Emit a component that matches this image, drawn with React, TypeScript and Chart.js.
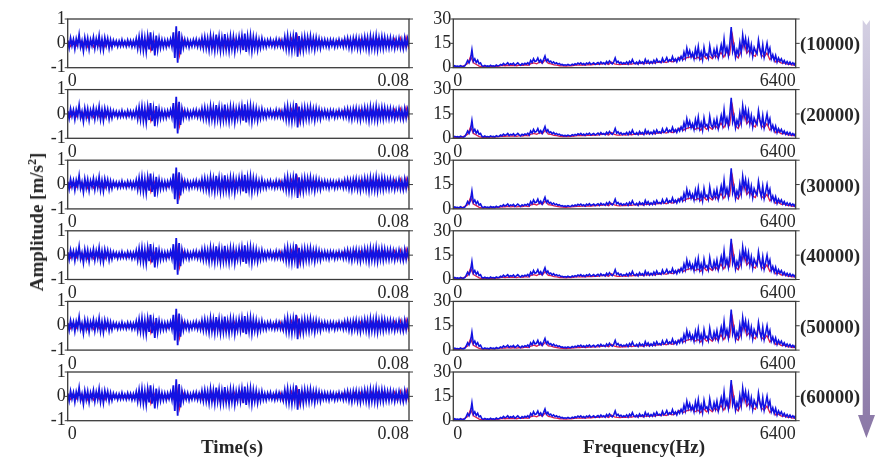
import React, { useEffect, useRef } from "react";
import { Chart, registerables } from "chart.js";

Chart.register(...registerables);

// ---------- data ----------
const rowLabels = ["(10000)", "(20000)", "(30000)", "(40000)", "(50000)", "(60000)"];

const timeMax = 0.08;
const timeXTicks = [0, 0.08];
const timeYTicks = [-1, 0, 1];
const freqMax = 6400;
const freqXTicks = [0, 6400];
const freqYTicks = [0, 15, 30];

// vibration signal (blue, reconstructed)
const timeBlue = [
  0.12, -0.18, 0.21, -0.1, 0.16, -0.22, 0.18, -0.08, 0.35, -0.15, 0.1, -0.3, 0.22, -0.14, 0.2, -0.24, 0.15, -0.1, 0.24, -0.2,
  0.18, -0.12, 0.3, -0.22, 0.16, -0.26, 0.22, -0.1, 0.19, -0.2, 0.14, -0.16, 0.12, -0.08, 0.1, -0.13, 0.09, -0.11, 0.14, -0.1,
  0.08, -0.12, 0.13, -0.09, 0.11, -0.14, 0.1, -0.12, 0.18, -0.2, 0.26, -0.22, 0.3, -0.28, 0.22, -0.33, 0.28, -0.25, 0.45, -0.3,
  0.2, -0.5, 0.32, -0.26, 0.2, -0.18, 0.14, -0.16, 0.12, -0.15, 0.13, -0.1, 0.16, -0.14, 0.45, -0.6, 0.7, -0.8, 0.5, -0.45,
  0.2, -0.18, 0.15, -0.12, 0.13, -0.16, 0.1, -0.12, 0.14, -0.1, 0.16, -0.13, 0.12, -0.15, 0.22, -0.18, 0.25, -0.2, 0.2, -0.26,
  0.3, -0.22, 0.24, -0.28, 0.36, -0.2, 0.27, -0.3, 0.22, -0.25, 0.38, -0.24, 0.2, -0.3, 0.28, -0.22, 0.25, -0.32, 0.2, -0.18,
  0.26, -0.2, 0.3, -0.28, 0.4, -0.35, 0.28, -0.22, 0.32, -0.3, 0.25, -0.2, 0.22, -0.26, 0.15, -0.18, 0.2, -0.14, 0.12, -0.15,
  0.13, -0.1, 0.15, -0.12, 0.1, -0.14, 0.16, -0.11, 0.14, -0.13, 0.12, -0.16, 0.25, -0.22, 0.3, -0.26, 0.22, -0.3, 0.28, -0.2,
  0.45, -0.55, 0.3, -0.25, 0.22, -0.28, 0.26, -0.2, 0.24, -0.22, 0.28, -0.18, 0.2, -0.25, 0.22, -0.16, 0.18, -0.2, 0.14, -0.12,
  0.15, -0.13, 0.12, -0.16, 0.14, -0.1, 0.13, -0.15, 0.11, -0.12, 0.15, -0.1, 0.12, -0.14, 0.18, -0.12, 0.2, -0.18, 0.16, -0.22,
  0.2, -0.15, 0.22, -0.2, 0.18, -0.24, 0.2, -0.16, 0.25, -0.2, 0.22, -0.26, 0.28, -0.2, 0.24, -0.22, 0.3, -0.25, 0.22, -0.18,
  0.26, -0.2, 0.24, -0.16, 0.2, -0.18, 0.22, -0.15, 0.18, -0.2, 0.16, -0.14, 0.2, -0.18, 0.15, -0.2, 0.22, -0.16, 0.18, -0.14,
];

// original signal (red), mostly hidden under blue
const timeRed = [
  0.1, -0.12, 0.12, -0.1, 0.2, -0.15, 0.14, -0.15, 0.12, -0.14,
  0.15, -0.12, 0.12, -0.14, 0.12, -0.1, 0.08, -0.07, 0.07, -0.08,
  0.07, -0.08, 0.08, -0.07, 0.14, -0.15, 0.16, -0.18, 0.25, -0.3,
  0.15, -0.14, 0.1, -0.08, 0.08, -0.1, 0.1, -0.12, 0.4, -0.5,
  0.2, -0.1, 0.08, -0.08, 0.1, -0.08, 0.14, -0.13, 0.15, -0.16,
  0.2, -0.17, 0.2, -0.18, 0.17, -0.19, 0.16, -0.14, 0.17, -0.15,
  0.2, -0.2, 0.17, -0.17, 0.14, -0.14, 0.1, -0.1, 0.08, -0.08,
  0.08, -0.08, 0.08, -0.1, 0.17, -0.17, 0.17, -0.17, 0.2, -0.18,
  0.3, -0.35, 0.15, -0.14, 0.16, -0.14, 0.12, -0.12, 0.1, -0.08,
  0.08, -0.1, 0.08, -0.08, 0.1, -0.1, 0.12, -0.12, 0.14, -0.14,
  0.14, -0.15, 0.15, -0.15, 0.17, -0.16, 0.17, -0.15, 0.16, -0.14,
  0.15, -0.14, 0.14, -0.14, 0.18, -0.18, 0.22, -0.22, 0.26, -0.25,
];

// amplitude spectrum (blue, reconstructed)
const specBlue = [
  0.5, 1.2, 0.8, 1.0, 0.6, 1.3, 0.9, 0.7, 1.1, 2.5, 4.5, 3.0, 5.2, 11.0, 4.0, 5.5, 3.2, 4.6, 2.4, 3.0,
  1.2, 0.8, 1.4, 0.9, 1.1, 0.7, 1.5, 1.0, 1.2, 0.8, 1.6, 1.1, 1.3, 2.0, 1.5, 2.6, 1.8, 2.2, 3.0, 1.7,
  2.4, 2.0, 2.8, 1.6, 2.2, 3.0, 2.1, 1.5, 2.5, 1.9, 2.7, 2.2, 3.1, 2.0, 4.5, 3.2, 5.5, 3.8, 4.2, 6.0,
  3.5, 4.8, 3.0, 5.0, 7.2, 4.0, 5.2, 3.4, 4.0, 2.8, 3.6, 2.5, 3.0, 2.2, 2.6, 1.8, 2.0, 1.5, 1.8, 1.4,
  2.0, 1.6, 1.5, 2.2, 1.7, 2.4, 1.9, 2.8, 2.2, 3.0, 2.0, 2.6, 1.8, 2.9, 2.3, 3.2, 2.1, 2.5, 3.0, 2.0,
  2.6, 3.2, 2.2, 3.5, 2.5, 3.0, 2.2, 3.8, 2.6, 4.2, 3.0, 2.4, 3.6, 6.0, 3.2, 4.0, 2.6, 3.4, 2.3, 3.0,
  2.5, 3.6, 2.2, 4.0, 2.8, 5.0, 3.0, 2.5, 3.5, 2.2, 4.2, 2.8, 3.6, 2.4, 5.2, 3.0, 4.4, 2.6, 3.8, 2.7,
  4.6, 3.0, 5.2, 3.4, 4.0, 3.2, 5.8, 3.6, 4.4, 6.2, 3.8, 5.0, 4.2, 6.8, 4.0, 5.4, 3.6, 6.0, 4.5, 7.0,
  5.0, 9.5, 6.0, 12.0, 7.5, 10.5, 6.5, 9.0, 5.5, 11.5, 7.0, 13.0, 6.0, 9.5, 5.0, 12.5, 7.5, 8.5, 5.8, 13.5,
  8.0, 6.5, 11.0, 7.2, 12.0, 6.0, 9.5, 14.0, 8.5, 17.5, 9.0, 12.5, 7.5, 15.0, 25.0, 10.0, 13.5, 6.5, 11.0, 8.0,
  15.5, 9.5, 20.0, 13.0, 18.0, 11.0, 16.5, 9.0, 14.0, 7.0, 12.5, 10.0, 8.5, 17.0, 11.5, 7.5, 14.0, 6.5, 10.5, 15.0,
  9.0, 12.0, 5.5, 8.0, 4.5, 7.5, 3.5, 6.0, 4.0, 5.5, 3.0, 4.5, 2.5, 3.8, 2.2, 3.5, 2.0, 3.0, 1.8, 3.2,
];

// amplitude spectrum (red, original)
const specRed = [
  0.3, 0.6, 0.5, 0.7, 1.5, 2.5, 7.0, 3.0, 2.0, 1.0,
  0.6, 0.7, 0.6, 0.8, 0.7, 0.9, 1.0, 1.4, 1.2, 1.5,
  1.3, 1.5, 1.2, 1.6, 1.4, 1.8, 1.5, 2.5, 3.0, 2.4,
  3.5, 2.8, 5.0, 2.6, 2.4, 1.8, 1.6, 1.2, 1.1, 1.0,
  1.1, 1.2, 1.4, 1.6, 1.6, 1.8, 1.6, 1.9, 1.8, 2.0,
  2.0, 2.2, 2.4, 2.6, 2.0, 3.5, 2.4, 2.0, 1.9, 2.2,
  2.0, 2.4, 2.2, 2.6, 2.4, 2.8, 2.4, 3.0, 2.7, 3.2,
  2.8, 3.4, 3.2, 3.8, 3.2, 4.2, 3.6, 4.0, 5.5, 6.5,
  5.0, 6.0, 6.5, 7.0, 5.5, 6.5, 5.0, 7.5, 5.5, 7.0,
  5.5, 8.0, 6.0, 9.5, 6.5, 10.0, 8.0, 20.0, 8.0, 6.0,
  10.0, 16.0, 9.0, 11.0, 8.0, 7.0, 14.0, 8.0, 6.5, 9.0,
  5.0, 7.0, 3.5, 4.0, 2.8, 3.0, 2.2, 2.0, 1.6, 1.8,
];

// ---------- styling / layout ----------
const BLUE = "#1212e2";
const RED = "#dc2050";
const BOX = "#3a3a3a";
const TEXT = "#262626";
const SERIF = "'Liberation Serif', 'Times New Roman', serif";

const FIRST_TOP = 19;
const ROW_STEP = 70.6;
const PLOT_H = 48.7;
const PAD_TOP = 14;
const CANVAS_H = 90;

const LEFT_PANEL = { canvasLeft: 0, canvasW: 420, plotL: 67.7, plotR: 409, lw: 1.8 };
const RIGHT_PANEL = { canvasLeft: 420, canvasW: 390, plotL: 453.3, plotR: 795.7, lw: 1.6 };

const boxPlugin = {
  id: "panelBox",
  afterDraw(chart: any) {
    const { ctx, chartArea: a, scales } = chart;
    ctx.save();
    ctx.strokeStyle = BOX;
    ctx.lineWidth = 1.3;
    ctx.strokeRect(a.left, a.top, a.right - a.left, a.bottom - a.top);
    ctx.lineWidth = 1;
    for (const t of scales.y.ticks) {
      const y = scales.y.getPixelForValue(t.value);
      ctx.beginPath();
      ctx.moveTo(a.left - 3, y);
      ctx.lineTo(a.left, y);
      ctx.moveTo(a.right, y);
      ctx.lineTo(a.right + 4, y);
      ctx.stroke();
    }
    ctx.restore();
  },
};

function toPoints(arr: number[], xMax: number) {
  return arr.map((v, i) => ({ x: (i * xMax) / (arr.length - 1), y: v }));
}

function makeConfig(
  blue: number[],
  red: number[],
  xMax: number,
  xTicks: number[],
  yMin: number,
  yMax: number,
  yTicks: number[],
  panel: typeof LEFT_PANEL,
  padTop: number
): any {
  const yAxisW = panel.plotL - panel.canvasLeft;
  const padRight = panel.canvasLeft + panel.canvasW - panel.plotR;
  const xAxisH = CANVAS_H - padTop - PLOT_H;
  const tickFont = { family: SERIF, size: 18 };
  return {
    type: "line",
    data: {
      datasets: [
        { data: toPoints(blue, xMax), borderColor: BLUE, borderWidth: panel.lw, pointRadius: 0, tension: 0 },
        { data: toPoints(red, xMax), borderColor: RED, borderWidth: 1.3, pointRadius: 0, tension: 0 },
      ],
    },
    options: {
      animation: false,
      responsive: false,
      events: [],
      layout: { padding: { top: padTop, right: padRight, left: 0, bottom: 0 } },
      plugins: { legend: { display: false }, tooltip: { enabled: false } },
      scales: {
        x: {
          type: "linear",
          min: 0,
          max: xMax,
          afterBuildTicks: (s: any) => {
            s.ticks = xTicks.map((v) => ({ value: v }));
          },
          afterFit: (s: any) => {
            s.height = xAxisH;
          },
          grid: { display: false, drawTicks: false },
          border: { display: false },
          ticks: {
            align: "inner",
            maxRotation: 0,
            autoSkip: false,
            padding: 3,
            color: TEXT,
            font: tickFont,
            callback: (v: any) => String(v),
          },
        },
        y: {
          type: "linear",
          min: yMin,
          max: yMax,
          afterBuildTicks: (s: any) => {
            s.ticks = yTicks.map((v) => ({ value: v }));
          },
          afterFit: (s: any) => {
            s.width = yAxisW;
          },
          grid: { display: false, drawTicks: false },
          border: { display: false },
          ticks: {
            padding: 2,
            autoSkip: false,
            color: TEXT,
            font: tickFont,
            callback: (v: any) => String(v),
          },
        },
      },
    },
    plugins: [boxPlugin],
  };
}

function Panel(props: { kind: "time" | "freq"; row: number }) {
  const ref = useRef<HTMLCanvasElement | null>(null);
  const panel = props.kind === "time" ? LEFT_PANEL : RIGHT_PANEL;
  const plotTop = FIRST_TOP + props.row * ROW_STEP;
  const canvasTop = Math.floor(plotTop - PAD_TOP);
  const padTop = plotTop - canvasTop;

  useEffect(() => {
    if (!ref.current) return;
    const cfg =
      props.kind === "time"
        ? makeConfig(timeBlue, timeRed, timeMax, timeXTicks, -1, 1, timeYTicks, panel, padTop)
        : makeConfig(specBlue, specRed, freqMax, freqXTicks, 0, 30, freqYTicks, panel, padTop);
    const chart = new Chart(ref.current, cfg);
    return () => chart.destroy();
  }, []);

  return (
    <canvas
      ref={ref}
      width={panel.canvasW}
      height={CANVAS_H}
      style={{
        position: "absolute",
        left: panel.canvasLeft,
        top: canvasTop,
        width: panel.canvasW,
        height: CANVAS_H,
      }}
    />
  );
}

export default function App() {
  const rows = [0, 1, 2, 3, 4, 5];
  const boldText = {
    position: "absolute" as const,
    fontWeight: "bold" as const,
    fontSize: 19,
    lineHeight: "20px",
    whiteSpace: "nowrap" as const,
  };
  return (
    <div
      style={{
        position: "absolute",
        left: 0,
        top: 0,
        width: 891,
        height: 465,
        background: "#ffffff",
        overflow: "hidden",
        fontFamily: SERIF,
        color: TEXT,
      }}
    >
      {rows.map((r) => (
        <Panel key={"t" + r} kind="time" row={r} />
      ))}
      {rows.map((r) => (
        <Panel key={"f" + r} kind="freq" row={r} />
      ))}

      {rowLabels.map((lab, r) => (
        <div
          key={lab}
          style={{
            ...boldText,
            left: 800,
            top: FIRST_TOP + r * ROW_STEP + PLOT_H / 2 + 1,
            transform: "translateY(-50%)",
          }}
        >
          {lab}
        </div>
      ))}

      <div
        style={{
          ...boldText,
          left: 37,
          top: 222,
          transform: "translate(-50%, -50%) rotate(-90deg)",
        }}
      >
        Amplitude [m/s<sup style={{ fontSize: 12, lineHeight: 0 }}>2</sup>]
      </div>

      <div style={{ ...boldText, left: 232, top: 447, transform: "translate(-50%, -50%)" }}>Time(s)</div>
      <div style={{ ...boldText, left: 644, top: 447, transform: "translate(-50%, -50%)" }}>Frequency(Hz)</div>

      <svg
        width={891}
        height={465}
        style={{ position: "absolute", left: 0, top: 0, pointerEvents: "none" }}
      >
        <defs>
          <linearGradient id="arrowGrad" x1="0" y1="0" x2="0" y2="1">
            <stop offset="0" stopColor="#d4d0e3" />
            <stop offset="1" stopColor="#8a77a6" />
          </linearGradient>
        </defs>
        <polygon
          points="862.7,20 866.3,25 870,20 870,415 875,415 866.4,438 858,415 862.7,415"
          fill="url(#arrowGrad)"
        />
      </svg>
    </div>
  );
}
